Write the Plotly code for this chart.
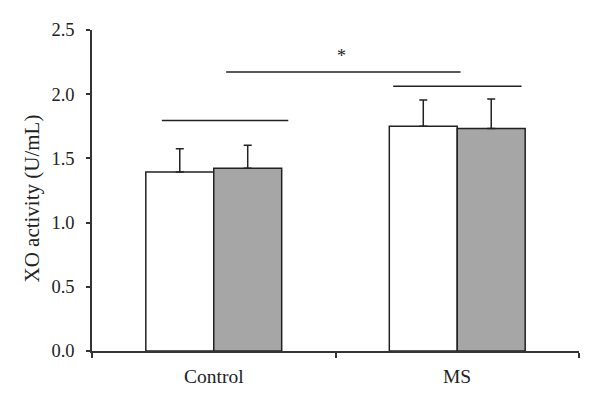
import plotly.graph_objects as go

categories = ["Control", "MS"]
series_a = [1.395, 1.751]          # white bars
series_a_err = [0.18, 0.203]
series_b = [1.424, 1.733]          # gray bars
series_b_err = [0.179, 0.229]

# significance brackets (x in category units, y in data units)
bracket_x0 = [-0.213, 0.051, 0.737]
bracket_x1 = [0.306, 1.0135, 1.264]
bracket_y = [1.796, 2.172, 2.061]
star_x = 0.525
star_y = 2.30

y_ticks = [0, 0.5, 1.0, 1.5, 2.0, 2.5]
y_ticktext = ["0.0", "0.5", "1.0", "1.5", "2.0", "2.5"]
y_title = "XO activity (U/mL)"

x_pos = [0, 1]
FONT = "Liberation Serif"
INK = "#222222"

fig = go.Figure()
fig.add_trace(go.Bar(
    x=x_pos, y=series_a, name="A",
    marker=dict(color="white", line=dict(color=INK, width=1.5)),
    error_y=dict(type="data", array=series_a_err, symmetric=False, arrayminus=[0, 0],
                 color=INK, thickness=1.5, width=4),
))
fig.add_trace(go.Bar(
    x=x_pos, y=series_b, name="B",
    marker=dict(color="#a6a6a6", line=dict(color=INK, width=1.5)),
    error_y=dict(type="data", array=series_b_err, symmetric=False, arrayminus=[0, 0],
                 color=INK, thickness=1.5, width=4),
))

for x0, x1, y in zip(bracket_x0, bracket_x1, bracket_y):
    fig.add_shape(type="line", x0=x0, x1=x1, y0=y, y1=y, xref="x", yref="y",
                  line=dict(color=INK, width=1.5))

fig.add_annotation(x=star_x, y=star_y, text="*", showarrow=False,
                   font=dict(family=FONT, size=18, color=INK))

# page body has an 8px default margin; compensate so plot area lands at the reference position
fig.update_layout(
    width=600, height=410,
    margin=dict(l=84, r=29, t=22, b=67),
    paper_bgcolor="white", plot_bgcolor="white",
    barmode="group", bargap=0.442, bargroupgap=0,
    showlegend=False,
    font=dict(family=FONT, size=18, color=INK),
    xaxis=dict(
        range=[-0.5, 1.5], tickmode="array", tickvals=[-0.5, 0.5, 1.5], ticktext=["", "", ""],
        ticks="outside", ticklen=5, tickwidth=1.5, tickcolor="#333333",
        showline=True, linecolor="#333333", linewidth=1.5, showgrid=False, zeroline=False,
    ),
    yaxis=dict(
        range=[0, 2.5], tickmode="array", tickvals=y_ticks, ticktext=y_ticktext,
        ticks="outside", ticklen=4, tickwidth=1.5, tickcolor="#333333",
        ticklabelstandoff=8,
        tickfont=dict(family=FONT, size=18.5, color=INK),
        showline=True, linecolor="#333333", linewidth=1.5, showgrid=False, zeroline=False,
    ),
)

fig.add_annotation(xref="paper", yref="paper", x=0, y=0.475, xshift=-60, textangle=-90,
                   text=y_title, showarrow=False, xanchor="center", yanchor="middle",
                   font=dict(family=FONT, size=21, color=INK))

for xi, lab in zip(x_pos, categories):
    fig.add_annotation(x=xi, y=0, yref="y", xref="x", yshift=-25, text=lab, showarrow=False,
                       font=dict(family=FONT, size=19.5, color=INK))

fig.write_html("out.html")
